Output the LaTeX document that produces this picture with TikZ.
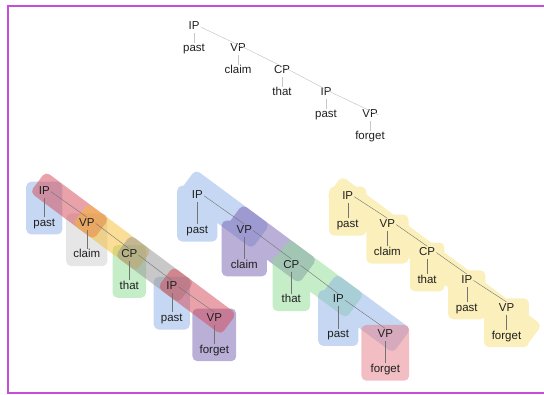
\documentclass[tikz,border=0pt]{standalone}
\usepackage{fontspec}
\setmainfont{Liberation Sans}
\usetikzlibrary{calc,backgrounds}

\definecolor{framepink}{RGB}{196,78,214}
\definecolor{hlblue}{RGB}{140,175,230}
\definecolor{hlred}{RGB}{212,70,84}
\definecolor{hlyellow}{RGB}{245,188,45}
\definecolor{hllight}{RGB}{205,205,205}
\definecolor{hldark}{RGB}{145,145,145}
\definecolor{hlgreen}{RGB}{140,220,145}
\definecolor{hlpurple}{RGB}{115,95,175}
\definecolor{hlpink}{RGB}{230,125,135}
\definecolor{hlsand}{RGB}{251,239,187}

\tikzset{
  word/.style={font=\fontsize{11.5}{13}\selectfont, text=black!88, inner sep=1pt,
    text height=8pt, text depth=2.3pt},
  arc/.style={draw=black!55, line width=0.4pt},
  toparc/.style={draw=black!22, line width=0.5pt},
  frame/.style={draw=framepink, line width=2pt},
  hl/.style={fill opacity=0.5, rounded corners=5pt}
}

% one chain IP-VP-CP-IP-VP with its dependents
\newcommand\deptree[7]{%
  \foreach \h/\d [count=\i from 0] in {IP/past,VP/claim,CP/that,IP/past,VP/forget}{
    \node[word] (#1h\i) at ({#2+\i*#4},{-#3-\i*#5}) {\h};
    \node[word] (#1d\i) at ({#2+\i*#4},{-#3-(\i+1)*#5}) {\d};
    \coordinate (#1a\i) at ($(#1h\i)+(#6,#7)$);
  }}
\newcommand\deparcs[3]{%
  \foreach \i in {0,...,4}{\draw[#2] (#1h\i.south) -- (#1d\i.north);}
  \foreach \i [evaluate=\i as \j using int(\i+1)] in {0,...,3}{\draw[#2] (#1h\i.east) -- (#1h\j.#3);}}

% head box and diagonal band, as closed paths
\def\boxpad{6}
\newcommand\boxpath[2]{($(#2.west |- #1)+(-\boxpad,10)$) -- ($(#2.east |- #1)+(\boxpad,10)$)
  -- ($(#2.east)+(\boxpad,-11)$) -- ($(#2.west)+(-\boxpad,-11)$) -- cycle}
\def\bandw{13pt}
\def\bandext{13pt}
\newcommand\bandpath[2]{($(#1)!-\bandext!(#2)!\bandw!90:(#2)$)
  -- ($(#2)!-\bandext!(#1)!\bandw!-90:(#1)$)
  -- ($(#2)!-\bandext!(#1)!\bandw!90:(#1)$)
  -- ($(#1)!-\bandext!(#2)!\bandw!-90:(#2)$) -- cycle}

\begin{document}
\begin{tikzpicture}[x=1pt,y=1pt]
\useasboundingbox (0,0) rectangle (544,-394);
\begin{scope}
\clip (0,0) rectangle (544,-394);
\draw[frame] (560,-6) -- (8,-6) -- (8,-392.5) -- (560,-392.5);
\end{scope}

% plain tree
\deptree{T}{194}{27}{44}{22}{0}{0}
\deparcs{T}{toparc}{east}

% left: boxes and bands in different colours
\deptree{L}{44.3}{191.7}{42.5}{31.7}{4}{2}
\deparcs{L}{arc}{north}
\begin{scope}[on background layer]
\fill[hl,hlblue] \boxpath{Lh0}{Ld0};
\fill[hl,hllight] \boxpath{Lh1}{Ld1};
\fill[hl,hlgreen] \boxpath{Lh2}{Ld2};
\fill[hl,hlblue] \boxpath{Lh3}{Ld3};
\fill[hl,hlpurple] \boxpath{Lh4}{Ld4};
\fill[hl,hlred] \bandpath{La0}{La1};
\fill[hl,hlyellow] \bandpath{La1}{La2};
\fill[hl,hldark] \bandpath{La2}{La3};
\fill[hl,hlred] \bandpath{La3}{La4};
\end{scope}

% middle: each head with its band
\deptree{M}{197.3}{195.7}{47}{34.8}{3}{4}
\deparcs{M}{arc}{north}
\begin{scope}[on background layer]
\def\bandw{15pt}\def\bandext{17pt}\def\boxpad{8}
\fill[hl,hlblue] \boxpath{Mh0}{Md0} \bandpath{Ma0}{Ma1};
\fill[hl,hlpurple] \boxpath{Mh1}{Md1} \bandpath{Ma1}{Ma2};
\fill[hl,hlgreen] \boxpath{Mh2}{Md2} \bandpath{Ma2}{Ma3};
\fill[hl,hlblue] \boxpath{Mh3}{Md3} \bandpath{Ma3}{Ma4};
\fill[hl,hlpink] \boxpath{Mh4}{Md4};
\end{scope}

% right: one region for the whole chain
\deptree{R}{347.7}{196.7}{39.7}{27.9}{0}{0}
\deparcs{R}{arc}{north}
\coordinate (Rend) at ($(Rh4)+(14,-17)$);
\begin{scope}[on background layer]
\def\bandw{13pt}\def\bandext{17pt}\def\boxpad{6.5}
\fill[hlsand, rounded corners=5pt] \boxpath{Rh0}{Rd0} \boxpath{Rh1}{Rd1}
  \boxpath{Rh2}{Rd2} \boxpath{Rh3}{Rd3} \boxpath{Rh4}{Rd4} \bandpath{Ra0}{Rend};
\end{scope}
\end{tikzpicture}
\end{document}
